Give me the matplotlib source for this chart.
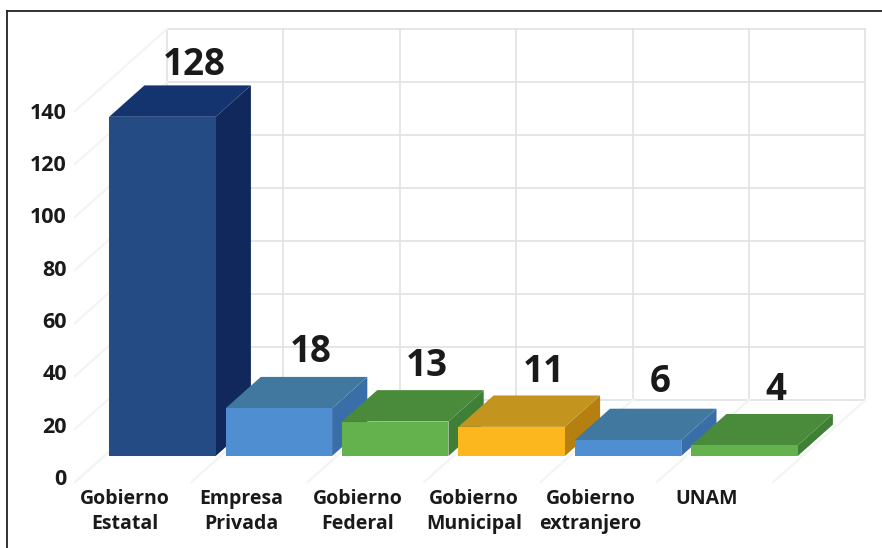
import matplotlib
matplotlib.use("Agg")
import matplotlib.pyplot as plt
from matplotlib.lines import Line2D
from matplotlib.patches import Polygon

categories = ["Gobierno\nEstatal", "Empresa\nPrivada", "Gobierno\nFederal",
              "Gobierno\nMunicipal", "Gobierno\nextranjero", "UNAM"]
values = [128, 18, 13, 11, 6, 4]
y_ticks = [0, 20, 40, 60, 80, 100, 120, 140]

# front, top, side
front_colors = ["#244b84", "#4f8fd1", "#63b24e", "#fdb71e", "#4f8fd1", "#63b24e"]
top_colors = ["#14346f", "#40789f", "#4a8a3b", "#c4951e", "#40789f", "#4a8a3b"]
side_colors = ["#10285c", "#3a6ea8", "#3f7f36", "#b5800f", "#3a6ea8", "#3f7f36"]

plt.rcParams["font.family"] = ["Open Sans", "DejaVu Sans"]
plt.rcParams["font.weight"] = "bold"

# pixels per unit, used only to set up the axes
slot_px = 116.4
unit_px = 2.65
x0_px, y0_px = 75, 482
W, H = 882, 548

# oblique depth of the box, in data units
depth_x = 92 / slot_px
depth_y = 82 / unit_px


def project(x, v, d):
    return x + depth_x * d, v + depth_y * d


fig = plt.figure(figsize=(W / 100, H / 100), dpi=100)
ax = fig.add_axes([0, 0, 1, 1])
ax.set_xlim(-x0_px / slot_px, (W - x0_px) / slot_px)
ax.set_ylim((y0_px - H) / unit_px, y0_px / unit_px)
ax.axis("off")

n = len(categories)
grid = "#e2e2e2"
faint = "#f4f4f4"

# back wall
for t in y_ticks:
    xs, ys = zip(project(0, t, 1), project(n, t, 1))
    ax.plot(xs, ys, color=grid, lw=1.2, zorder=1)
for i in range(n + 1):
    xs, ys = zip(project(i, 0, 1), project(i, y_ticks[-1], 1))
    ax.plot(xs, ys, color=grid, lw=1.2, zorder=1)

# left wall and floor
for t in y_ticks:
    xs, ys = zip(project(0, t, 0), project(0, t, 1))
    ax.plot(xs, ys, color=faint, lw=1.6, zorder=1)
for i in range(n + 1):
    xs, ys = zip(project(i, 0, 0), project(i, 0, 1))
    ax.plot(xs, ys, color=faint, lw=1.6, zorder=1)

# bars
bar_w = 0.915
bar_gap = 0.043
d_front, d_back = 0.317, 0.70
label_lift = [7.8, 9.4, 9.0, 8.8, 10.2, 9.2]
for i, v in enumerate(values):
    l = i + bar_gap
    r = l + bar_w
    front = [project(l, 0, d_front), project(r, 0, d_front),
             project(r, v, d_front), project(l, v, d_front)]
    top = [project(l, v, d_front), project(r, v, d_front),
           project(r, v, d_back), project(l, v, d_back)]
    side = [project(r, 0, d_front), project(r, 0, d_back),
            project(r, v, d_back), project(r, v, d_front)]
    ax.add_patch(Polygon(side, fc=side_colors[i], ec="none", zorder=3 + i))
    ax.add_patch(Polygon(top, fc=top_colors[i], ec="none", zorder=3 + i))
    ax.add_patch(Polygon(front, fc=front_colors[i], ec="none", zorder=3 + i))

    cx, cy = project(l + bar_w / 2 - 0.03, v, d_back)
    ax.text(cx, cy + label_lift[i], str(v), ha="center", va="center", fontsize=26.5,
            color="#1a1a1a", zorder=20)

# tick labels
for t in y_ticks:
    ax.text(-8 / slot_px, t * 0.987 + 1, str(t), ha="right", va="center", fontsize=15.5,
            color="#1a1a1a")
for i, c in enumerate(categories):
    ax.text(i + 0.43, -2.7, c, ha="center", va="top", fontsize=14,
            color="#1a1a1a", linespacing=1.35)

# outer frame
fig.add_artist(Line2D([7 / W, 7 / W], [0, 1 - 11 / H], color="#222222", lw=1.3))
fig.add_artist(Line2D([7 / W, 1], [1 - 11 / H, 1 - 11 / H], color="#222222", lw=1.3))

fig.savefig("out.png", dpi=100)
